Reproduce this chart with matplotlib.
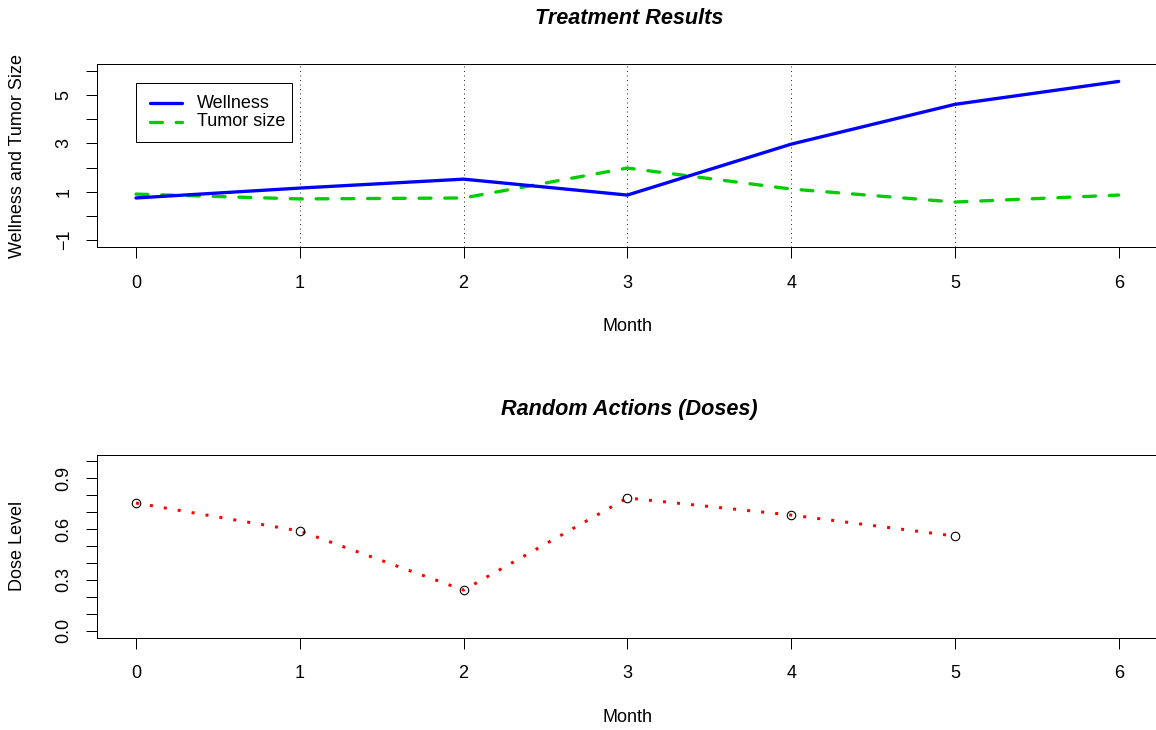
import matplotlib
matplotlib.use("Agg")
import matplotlib.pyplot as plt
from matplotlib.patches import Rectangle
from matplotlib.lines import Line2D

plt.rcParams['font.family'] = ['Liberation Sans', 'DejaVu Sans']

months = [0, 1, 2, 3, 4, 5, 6]
wellness = [0.74, 1.15, 1.52, 0.86, 2.97, 4.62, 5.57]
tumor = [0.90, 0.70, 0.74, 1.98, 1.11, 0.57, 0.86]
dose_months = [0, 1, 2, 3, 4, 5]
doses = [0.754, 0.589, 0.240, 0.784, 0.683, 0.559]
legend_labels = ['Wellness', 'Tumor size']

W, H = 1156, 730
DPI = 100
fig = plt.figure(figsize=(W / DPI, H / DPI), dpi=DPI)

def px(v):
    return v * 72.0 / DPI

def fx(x):
    return x / W

def fy(y):
    return 1 - y / H

def make_axes(left, top, right, bottom):
    return fig.add_axes([left / W, 1 - bottom / H, (right - left) / W, (bottom - top) / H])

FS = 13
lw_box = px(1)

ax1 = make_axes(96.7, 64.3, 1158, 246.7)
ax2 = make_axes(96.7, 454.6, 1158, 637.5)

for ax in (ax1, ax2):
    for s in ax.spines.values():
        s.set_linewidth(lw_box)
        s.set_color('black')
    ax.tick_params(axis='both', direction='out', length=px(11), width=lw_box,
                   labelsize=FS)
    ax.tick_params(axis='x', pad=px(17))
    ax.tick_params(axis='y', pad=px(13))
    ax.set_xlim(-0.24, 6.24)
    ax.set_xticks(months)
    ax.set_xticklabels([str(m) for m in months])

# Top panel
for m in [1, 2, 3, 4, 5]:
    ax1.axvline(m, color='#333333', lw=px(1), dashes=(1, 3.5), zorder=1)
wl = dict(color='#0000FF', lw=px(3.3), solid_capstyle='round', solid_joinstyle='round')
tl = dict(color='#00CD00', lw=px(3.3), dashes=(3.6, 4.2), dash_capstyle='round',
          dash_joinstyle='round')
ax1.plot(months, wellness, zorder=3, **wl)
ax1.plot(months, tumor, zorder=2, **tl)
ax1.set_ylim(-1.28, 6.28)
ax1.set_yticks(range(-1, 7))
ax1.set_yticklabels(['\u22121', '', '1', '', '3', '', '5', ''], rotation=90, va='center')

# Legend (drawn like R's legend box)
fig.patches.append(Rectangle((fx(136), fy(142)), (292 - 136) / W, (142 - 83) / H,
                             transform=fig.transFigure, facecolor='white',
                             edgecolor='black', linewidth=lw_box, zorder=5))
for yy, lab, style in [(103, legend_labels[0], wl), (122, legend_labels[1], tl)]:
    fig.lines.append(Line2D([fx(150), fx(182)], [fy(yy), fy(yy)],
                            transform=fig.transFigure, zorder=6, **style))
    fig.text(fx(197), fy(yy), lab, ha='left', va='center', fontsize=FS, zorder=7)

# Bottom panel
ax2.plot(dose_months, doses, color='#FF0000', lw=px(3), dashes=(1, 3.7),
         dash_capstyle='butt', zorder=2)
ax2.plot(dose_months, doses, linestyle='none', marker='o', markersize=px(8.5),
         markerfacecolor='none', markeredgecolor='black', markeredgewidth=px(1.1), zorder=3)
ax2.set_ylim(-0.04, 1.04)
yt = [i / 10 for i in range(11)]
ax2.set_yticks(yt)
ax2.set_yticklabels(['0.0', '', '', '0.3', '', '', '0.6', '', '', '0.9', ''], rotation=90, va='center')

# Titles and labels
TFS = 15.6
fig.text(fx(629), fy(18), 'Treatment Results', ha='center', va='center',
         fontsize=TFS, fontweight='bold', fontstyle='italic')
fig.text(fx(629), fy(410), 'Random Actions (Doses)', ha='center', va='center',
         fontsize=TFS, fontweight='bold', fontstyle='italic')
fig.text(fx(627), fy(326), 'Month', ha='center', va='center', fontsize=FS)
fig.text(fx(627), fy(717), 'Month', ha='center', va='center', fontsize=FS)
fig.text(fx(18), fy(155.5), 'Wellness and Tumor Size', ha='center', va='center',
         fontsize=FS, rotation=90)
fig.text(fx(18), fy(546), 'Dose Level', ha='center', va='center',
         fontsize=FS, rotation=90)

fig.savefig('out.png', dpi=DPI)
